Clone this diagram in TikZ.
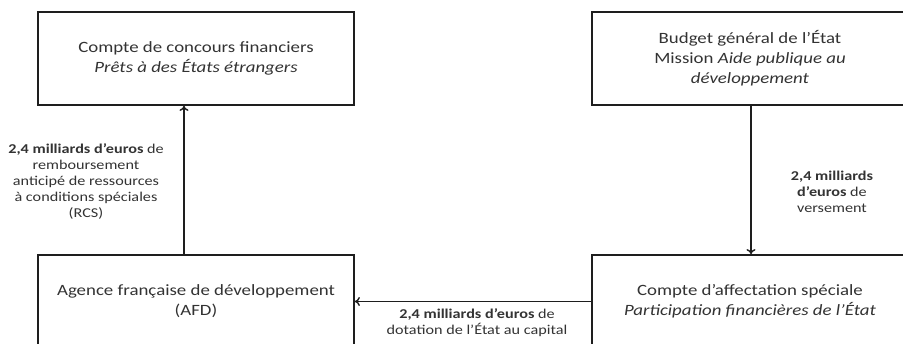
\documentclass[tikz,border=0pt]{standalone}
\usepackage{fontspec}
\setmainfont{Carlito}[FakeStretch=1.2]
\usetikzlibrary{arrows.meta}
\definecolor{txt}{HTML}{333333}
\definecolor{ln}{HTML}{1E1E1E}
\begin{document}
\begin{tikzpicture}[x=1pt,y=1pt,
  box/.style={draw=ln, line width=1.8pt, minimum width=316pt, minimum height=93pt,
    align=center, font=\fontsize{15.7}{20}\selectfont, text=txt, inner sep=0pt},
  lab/.style={align=center, font=\fontsize{13.5}{16}\selectfont, text=txt, inner sep=0pt},
  arr/.style={draw=ln, line width=1.4pt, -{To[length=5pt,width=9pt]}}]
\clip (0,0) rectangle (903,-344);
\fill[white] (0,0) rectangle (903,-344);
\node[box] (ccf) at (196,-58.5) {Compte de concours financiers\\\textit{Prêts à des États étrangers}};
\node[box] (bud) at (750,-58.5) {Budget général de l’État\\Mission \textit{Aide publique au}\\\textit{développement}};
\node[box] (afd) at (196,-301.5) {Agence française de développement\\(AFD)};
\node[box] (cas) at (750,-301.5) {Compte d’affectation spéciale\\\textit{Participation financières de l’État}};
\draw[arr] ([xshift=-12pt]afd.north) -- ([xshift=-12pt]ccf.south);
\draw[arr] ([xshift=1pt]bud.south) -- ([xshift=1pt]cas.north);
\draw[arr] (cas.west) -- (afd.east);
\node[lab] (l1) at (86,-182) {\textbf{2,4 milliards d’euros} de\\remboursement\\anticipé de ressources\\à conditions spéciales\\(RCS)};
\node[lab] (l2) at (832,-192) {\textbf{2,4 milliards}\\\textbf{d’euros} de\\versement};
\node[lab] (l3) at (477,-322.5) {\textbf{2,4 milliards d’euros} de\\dotation de l’État au capital};
\end{tikzpicture}
\end{document}
